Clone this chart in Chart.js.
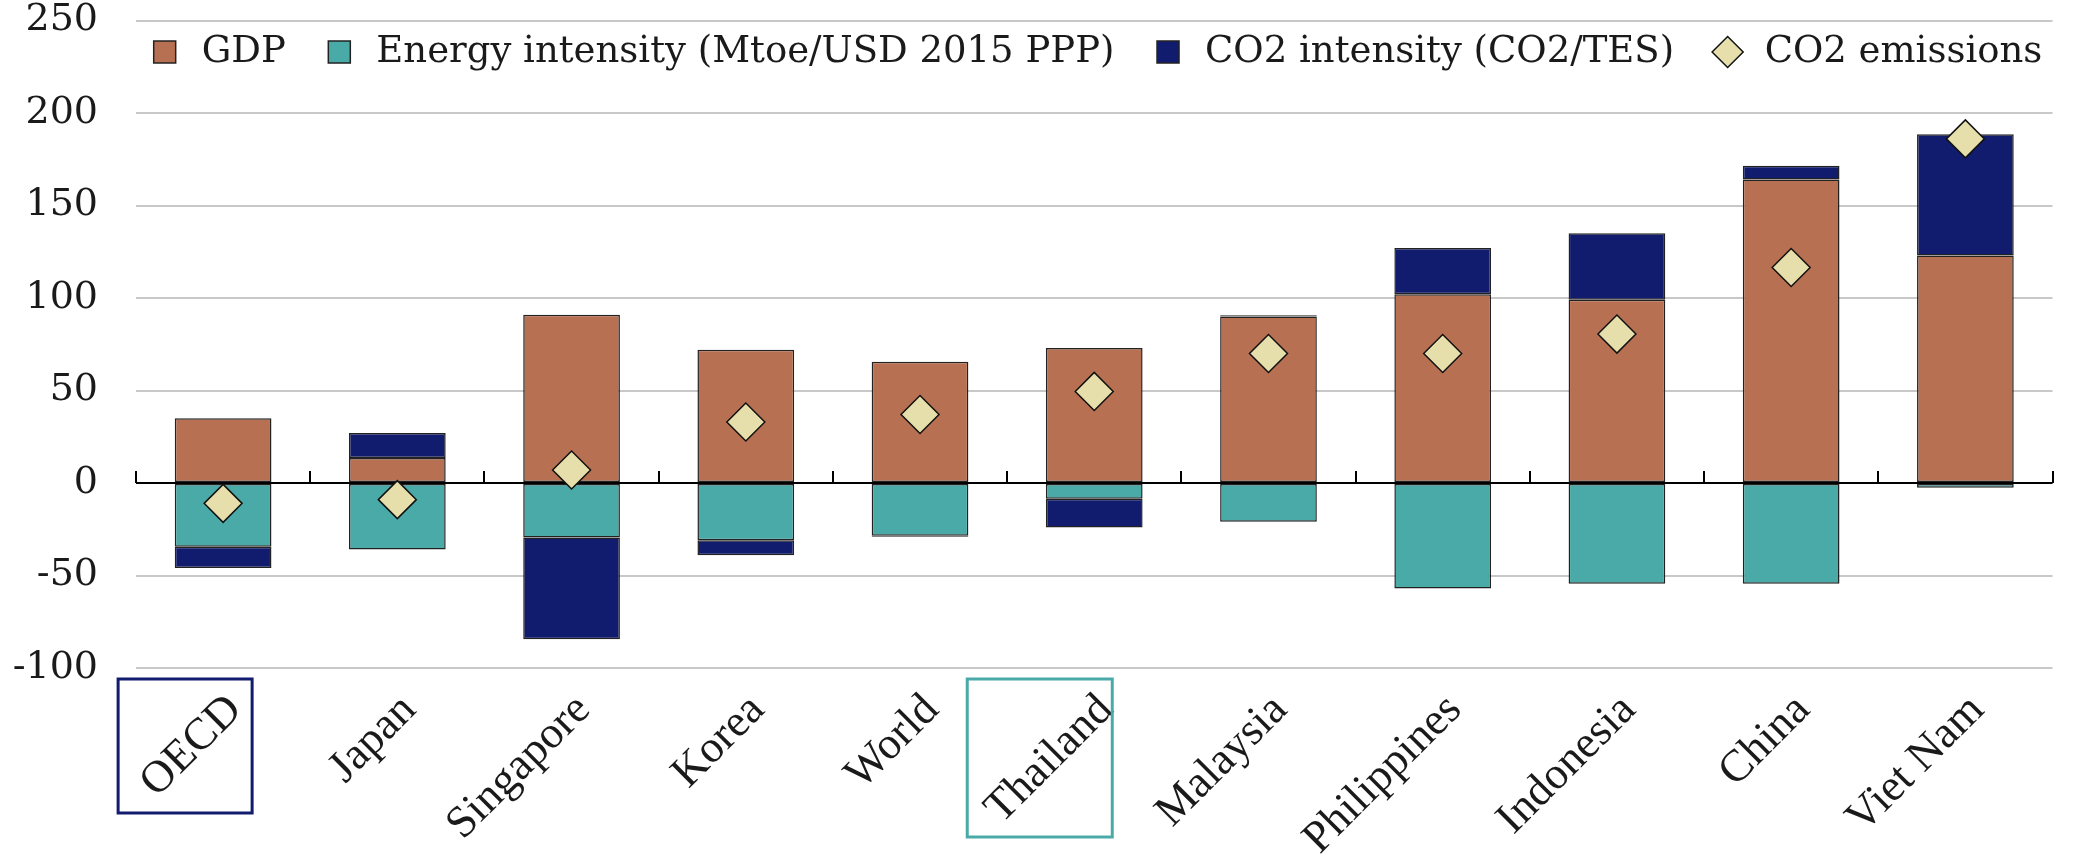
<!DOCTYPE html>
<html>
<head>
<meta charset="utf-8">
<script src="https://cdn.jsdelivr.net/npm/chart.js@4.4.1/dist/chart.umd.min.js"></script>
<style>
  body { margin: 0; background: #fff; }
  #wrap { width: 2073px; height: 857px; }
</style>
</head>
<body>
<div id="wrap"><canvas id="decomp"></canvas></div>
<script>
// data
var countries = ['OECD', 'Japan', 'Singapore', 'Korea', 'World', 'Thailand', 'Malaysia', 'Philippines', 'Indonesia', 'China', 'Viet Nam'];
var gdp       = [35, 13.5, 91, 72, 65.5, 73, 90, 102, 99, 164, 123];
var energyInt = [-34.5, -36, -29.5, -31, -28.5, -8.5, -21, -57, -54.5, -54.5, -2.5];
var co2Int    = [-11.5, 13.5, -55, -8, -0.5, -15.5, 0.7, 25, 36, 7.5, 65.5];
var emissions = [-11, -9, 7, 33, 37, 49.5, 70, 70, 80.5, 116.5, 186];
var yTicks    = [-100, -50, 0, 50, 100, 150, 200, 250];

// boxes drawn round some of the country labels
var framed = [
  { index: 0, color: '#111c6e', left: -105, right: 29, bottom: 145 },
  { index: 5, color: '#4aaaa8', left: -127, right: 18, bottom: 169 }
];

var serif = 'DejaVu Serif';
var ink = '#1a1a1a';

var decorations = {
  id: 'decorations',
  beforeLayout: function(chart) {
    // legend takes no room of its own, it is laid over the top of the plot
    var lg = chart.legend;
    if (lg && !lg.inPlot) {
      var fit = lg.fit;
      lg.fit = function() {
        this.maxWidth += 200;
        fit.call(this);
        this.realHeight = this.height;
        this.height = 0;
      };
      lg.inPlot = true;
    }
  },
  afterLayout: function(chart) {
    var lg = chart.legend, area = chart.chartArea;
    lg.top = area.top - 22;
    lg.bottom = lg.top + lg.realHeight;
    lg.left = area.left - 80;
    lg.right = area.right + 80;
  },
  afterDatasetsDraw: function(chart) {
    var ctx = chart.ctx, x = chart.scales.x, y = chart.scales.y;
    var y0 = y.getPixelForValue(0);
    var step = (x.right - x.left) / countries.length;
    ctx.save();
    ctx.strokeStyle = '#000';
    ctx.lineWidth = 2;
    for (var i = 0; i <= countries.length; i++) {
      var px = Math.round(x.left + i * step);
      ctx.beginPath();
      ctx.moveTo(px, y0);
      ctx.lineTo(px, y0 - 12);
      ctx.stroke();
    }
    ctx.restore();
  },
  afterDraw: function(chart) {
    var ctx = chart.ctx, x = chart.scales.x;
    var top = chart.chartArea.bottom;
    ctx.save();
    ctx.lineWidth = 3;
    framed.forEach(function(f) {
      var c = x.getPixelForValue(f.index);
      ctx.strokeStyle = f.color;
      ctx.strokeRect(c + f.left, top + 11, f.right - f.left, f.bottom - 11);
    });
    ctx.restore();
  }
};

var barStyle = { borderColor: '#222', borderWidth: 1.5, borderSkipped: false, pointStyle: 'rect',
  barPercentage: 1, categoryPercentage: 0.555 };

new Chart(document.getElementById('decomp'), {
  type: 'bar',
  data: {
    labels: countries,
    datasets: [
      Object.assign({ label: 'GDP', data: gdp, backgroundColor: '#b87053' }, barStyle),
      Object.assign({ label: 'Energy intensity (Mtoe/USD 2015 PPP)', data: energyInt, backgroundColor: '#4aaaa8' }, barStyle),
      Object.assign({ label: 'CO2 intensity (CO2/TES)', data: co2Int, backgroundColor: '#111c6e' }, barStyle),
      {
        type: 'line', label: 'CO2 emissions', data: emissions, stack: 'em', order: -1,
        showLine: false, pointStyle: 'rectRot', pointRadius: 19, pointHoverRadius: 19,
        backgroundColor: '#e6dfab', pointBackgroundColor: '#e6dfab',
        borderColor: '#111', pointBorderColor: '#111', borderWidth: 1.5, pointBorderWidth: 1.5
      }
    ]
  },
  options: {
    responsive: true,
    maintainAspectRatio: false,
    animation: false,
    layout: { padding: { top: 0, right: 4 } },
    plugins: {
      tooltip: { enabled: false },
      legend: {
        position: 'top',
        fullSize: false,
        align: 'center',
        labels: {
          usePointStyle: true, boxHeight: 22, padding: 35,
          font: { family: serif, size: 37 }, color: ink,
          sort: function(a, b) { return a.datasetIndex - b.datasetIndex; }
        }
      }
    },
    scales: {
      x: {
        stacked: true,
        grid: { display: false },
        border: { display: false },
        ticks: { minRotation: 45, maxRotation: 45, padding: 8, labelOffset: 12, color: ink,
          font: { family: 'Liberation Serif', size: 45 } },
        afterFit: function(scale) { scale.height = 189; }
      },
      y: {
        stacked: true,
        min: -100, max: 250,
        afterBuildTicks: function(scale) { scale.ticks = yTicks.map(function(v) { return { value: v }; }); },
        grid: {
          drawTicks: false, lineWidth: 2,
          color: function(c) { return c.tick && c.tick.value === 0 ? '#000' : '#c8c8c8'; }
        },
        border: { display: false },
        ticks: { padding: 38, color: ink, font: { family: serif, size: 38 } },
        afterFit: function(scale) { scale.width = 136; scale.paddingTop = 20; }
      }
    }
  },
  plugins: [decorations]
});
</script>
</body>
</html>
